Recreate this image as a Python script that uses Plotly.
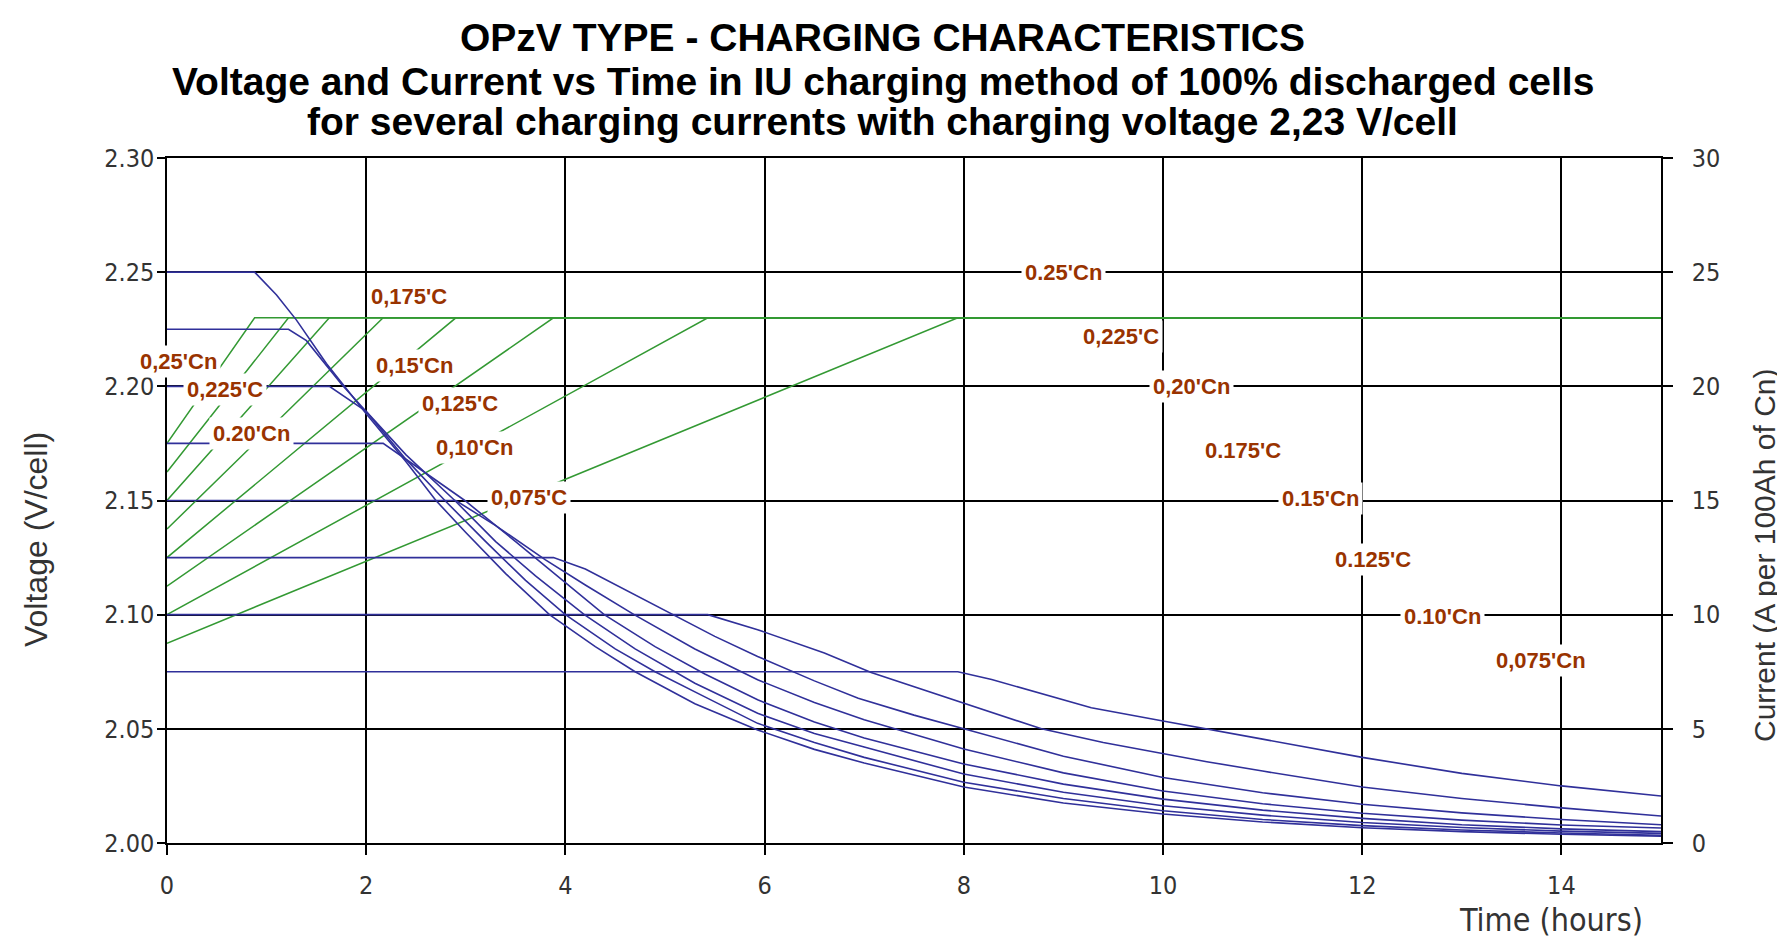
import plotly.graph_objects as go

# ---------------- data ----------------
x_ticks = [0, 2, 4, 6, 8, 10, 12, 14]
volt_ticks = [2.00, 2.05, 2.10, 2.15, 2.20, 2.25, 2.30]
amp_ticks = [0, 5, 10, 15, 20, 25, 30]

charge_rates = ["0.25", "0.225", "0.20", "0.175", "0.15", "0.125", "0.10", "0.075"]

# Voltage curves (left axis): start voltage at t=0, time when 2.23 V is reached
volt_start = [2.175, 2.1625, 2.15, 2.1375, 2.125, 2.1125, 2.10, 2.0875]
volt_reach_time = [0.88, 1.22, 1.63, 2.17, 2.90, 3.88, 5.43, 7.94]
charging_voltage = 2.23
end_time = 15

# Current curves (right axis, A per 100Ah)
cur_025_t = [0, 0.88, 1.1, 1.3, 1.6, 2.0, 2.4, 2.7, 3.0, 3.4, 3.84, 4.3, 4.7, 5.3, 5.93, 6.5, 7.0, 8.0, 9.0, 10.0, 11.0, 12.0, 13.0, 14.0, 15.0]
cur_025_a = [25, 25, 24.0, 22.9, 21.0, 18.8, 16.7, 15.0, 13.6, 11.8, 10.0, 8.6, 7.5, 6.1, 4.95, 4.1, 3.5, 2.45, 1.75, 1.27, 0.92, 0.67, 0.5, 0.38, 0.3]

cur_0225_t = [0, 1.22, 1.4, 1.75, 2.0, 2.4, 2.79, 3.2, 3.6, 4.0, 4.5, 4.9, 5.4, 5.93, 6.5, 7.0, 8.0, 9.0, 10.0, 11.0, 12.0, 13.0, 14.0, 15.0]
cur_0225_a = [22.5, 22.5, 22.0, 20.1, 18.9, 16.8, 15.0, 13.2, 11.5, 10.0, 8.5, 7.5, 6.4, 5.24, 4.4, 3.75, 2.66, 1.95, 1.41, 1.03, 0.76, 0.57, 0.44, 0.34]

cur_020_t = [0, 1.63, 2.0, 2.4, 2.89, 3.3, 3.7, 4.19, 4.7, 5.3, 5.93, 6.5, 7.0, 8.0, 9.0, 10.0, 11.0, 12.0, 13.0, 14.0, 15.0]
cur_020_a = [20, 20, 18.9, 17.0, 15.0, 13.2, 11.7, 10.0, 8.5, 7.0, 5.68, 4.8, 4.2, 3.02, 2.22, 1.63, 1.22, 0.9, 0.68, 0.52, 0.42]

cur_0175_t = [0, 2.17, 2.5, 2.99, 3.5, 3.95, 4.39, 4.9, 5.4, 5.93, 6.5, 7.0, 8.0, 9.0, 10.0, 11.0, 12.0, 13.0, 14.0, 15.0]
cur_0175_a = [17.5, 17.5, 16.5, 15.0, 13.2, 11.6, 10.0, 8.6, 7.4, 6.27, 5.3, 4.6, 3.46, 2.58, 1.92, 1.44, 1.08, 0.8, 0.62, 0.5]

cur_015_t = [0, 2.9, 3.3, 3.8, 4.2, 4.69, 5.3, 5.93, 6.5, 7.0, 8.0, 9.0, 10.0, 11.0, 12.0, 13.0, 14.0, 15.0]
cur_015_a = [15, 15, 13.9, 12.4, 11.3, 10.0, 8.5, 7.15, 6.15, 5.4, 4.12, 3.07, 2.28, 1.72, 1.3, 1.0, 0.79, 0.66]

cur_0125_t = [0, 3.88, 4.2, 4.6, 5.09, 5.5, 5.93, 6.5, 6.94, 7.5, 8.0, 9.0, 10.0, 11.0, 12.0, 13.0, 14.0, 15.0]
cur_0125_a = [12.5, 12.5, 12.0, 11.1, 10.0, 9.05, 8.17, 7.1, 6.34, 5.6, 5.0, 3.8, 2.87, 2.2, 1.7, 1.32, 1.03, 0.8]

cur_010_t = [0, 5.43, 5.93, 6.6, 7.07, 8.0, 8.78, 9.4, 10.0, 10.44, 11.0, 12.0, 13.0, 14.0, 15.0]
cur_010_a = [10, 10, 9.34, 8.32, 7.47, 6.12, 5.0, 4.4, 3.9, 3.56, 3.15, 2.45, 1.95, 1.54, 1.18]

cur_0075_t = [0, 7.94, 8.28, 8.7, 9.28, 10.0, 10.44, 11.0, 12.0, 13.0, 14.0, 15.0]
cur_0075_a = [7.5, 7.5, 7.16, 6.65, 5.92, 5.34, 5.0, 4.55, 3.75, 3.05, 2.5, 2.06]

current_times = [cur_025_t, cur_0225_t, cur_020_t, cur_0175_t, cur_015_t, cur_0125_t, cur_010_t, cur_0075_t]
current_values = [cur_025_a, cur_0225_a, cur_020_a, cur_0175_a, cur_015_a, cur_0125_a, cur_010_a, cur_0075_a]

# Curve labels (placed on the current axis)
left_labels = ["0,175'C", "0,25'Cn", "0,15'Cn", "0,225'C", "0,125'C", "0.20'Cn", "0,10'Cn", "0,075'C"]
left_t = [2.43, 0.12, 2.48, 0.58, 2.94, 0.85, 3.09, 3.63]
left_i = [23.95, 21.1, 20.9, 19.85, 19.24, 17.95, 17.3, 15.15]

right_labels = ["0.25'Cn", "0,225'C", "0,20'Cn", "0.175'C", "0.15'Cn", "0.125'C", "0.10'Cn", "0,075'Cn"]
right_t = [9.0, 9.58, 10.29, 10.8, 11.58, 12.11, 12.81, 13.8]
right_i = [25.0, 22.2, 20.0, 17.2, 15.1, 12.4, 9.94, 8.0]

title_lines = [
    "OPzV TYPE - CHARGING CHARACTERISTICS",
    "Voltage and Current vs Time in IU charging method of 100% discharged cells",
    "for several charging currents with charging voltage 2,23 V/cell",
]

# ---------------- figure ----------------
GREEN = "#339933"
BLUE = "#30309a"
LABEL = "#993300"
TICKFONT = dict(family="DejaVu Sans Condensed, Liberation Sans, Arial, sans-serif", size=25, color="#333333")

fig = go.Figure()

for i, rate in enumerate(charge_rates):
    fig.add_trace(go.Scatter(
        x=[0, volt_reach_time[i], end_time],
        y=[volt_start[i], charging_voltage, charging_voltage],
        mode="lines", line=dict(color=GREEN, width=1.5),
        name=f"U {rate}C", yaxis="y", showlegend=False, hoverinfo="skip"))

for i, rate in enumerate(charge_rates):
    fig.add_trace(go.Scatter(
        x=current_times[i], y=current_values[i],
        mode="lines", line=dict(color=BLUE, width=1.6),
        name=f"I {rate}C", yaxis="y2", showlegend=False, hoverinfo="skip"))

annotations = []
label_font = dict(family="Liberation Sans, Arial, sans-serif", size=22, color=LABEL, weight="bold")
for txt, t, a in zip(left_labels + right_labels, left_t + right_t, left_i + right_i):
    annotations.append(dict(x=t, y=a, xref="x", yref="y2", text=txt, showarrow=False,
                            font=label_font, bgcolor="white", borderpad=3,
                            xanchor="center", yanchor="middle"))

title_y = [1.1766, 1.1124, 1.0526]
for txt, yy in zip(title_lines, title_y):
    annotations.append(dict(x=0.479, y=yy, xref="paper", yref="paper", text=f"<b>{txt}</b>",
                            showarrow=False, xanchor="center", yanchor="middle",
                            font=dict(family="Liberation Sans, Arial, sans-serif", size=39, color="black")))

annotations.append(dict(x=(28 - 159) / 1494, y=(835 - 532) / 685, xref="paper", yref="paper",
                        text="Voltage (V/cell)", textangle=-90, showarrow=False,
                        xanchor="center", yanchor="middle",
                        font=dict(family="Liberation Sans, Arial, sans-serif", size=32, color="#333333")))
annotations.append(dict(x=(1756 - 159) / 1494, y=(835 - 547) / 685, xref="paper", yref="paper",
                        text="Current (A per 100Ah of Cn)", textangle=-90, showarrow=False,
                        xanchor="center", yanchor="middle",
                        font=dict(family="Liberation Sans, Arial, sans-serif", size=30, color="#333333")))
annotations.append(dict(x=0.9893, y=-0.113, xref="paper", yref="paper",
                        text="Time (hours)", showarrow=False,
                        xanchor="right", yanchor="middle",
                        font=dict(family="DejaVu Sans Condensed, Liberation Sans, Arial, sans-serif", size=32, color="#333333")))

fig.update_layout(
    width=1785, height=938,
    margin=dict(l=159, r=132, t=150, b=103),
    paper_bgcolor="white", plot_bgcolor="white",
    showlegend=False,
    annotations=annotations,
    xaxis=dict(range=[0, 15], tickvals=x_ticks, ticktext=[str(v) for v in x_ticks],
               showgrid=True, gridcolor="black", gridwidth=1.5,
               showline=True, linecolor="black", linewidth=1.5, mirror=True,
               ticks="outside", ticklen=10, tickcolor="black", tickwidth=1.5,
               ticklabelstandoff=9, tickfont=TICKFONT, zeroline=False),
    yaxis=dict(range=[2.0, 2.3], tickvals=volt_ticks, ticktext=[f"{v:.2f}" for v in volt_ticks],
               showgrid=True, gridcolor="black", gridwidth=1.5,
               showline=True, linecolor="black", linewidth=1.5,
               ticks="outside", ticklen=8, tickcolor="black", tickwidth=1.5,
               ticklabelstandoff=-2, tickfont=TICKFONT, zeroline=False),
    yaxis2=dict(range=[0, 30], tickvals=amp_ticks, ticktext=[str(v) for v in amp_ticks],
                overlaying="y", side="right", showgrid=False,
                showline=True, linecolor="black", linewidth=1.5,
                ticks="outside", ticklen=10, tickcolor="black", tickwidth=1.5,
                ticklabelstandoff=14, tickfont=TICKFONT, zeroline=False),
)

fig.write_html("out.html")
